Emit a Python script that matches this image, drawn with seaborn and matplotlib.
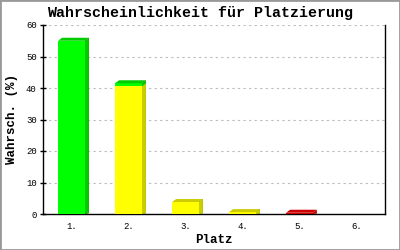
import matplotlib
matplotlib.use("Agg")
import matplotlib.pyplot as plt
import seaborn as sns
import numpy as np
import pandas as pd
from matplotlib.patches import Polygon, Rectangle

categories = ["1.", "2.", "3.", "4.", "5.", "6."]
yellow_vals = [0.0, 40.5, 3.8, 0.6, 0.0, 0.0]
green_vals = [55.0, 1.0, 0.0, 0.0, 0.0, 0.0]
red_vals = [0.0, 0.0, 0.0, 0.0, 0.4, 0.0]
yticks = [0, 10, 20, 30, 40, 50, 60]

title = "Wahrscheinlichkeit für Platzierung"
xlabel = "Platz"
ylabel = "Wahrsch. (%)"

front = {"y": "#FFFF00", "g": "#00FF00", "r": "#FF0000"}
dark = {"y": "#CCCC00", "g": "#00CC00", "r": "#CC0000"}

sns.set_style("white")
plt.rcParams["font.family"] = ["Liberation Mono", "DejaVu Sans Mono"]
plt.rcParams["text.color"] = "black"
plt.rcParams["axes.labelcolor"] = "black"
plt.rcParams["xtick.color"] = "black"
plt.rcParams["ytick.color"] = "black"

fig = plt.figure(figsize=(4, 2.5), dpi=100)
ax = fig.add_axes([43 / 400, 36 / 250, 342 / 400, 189 / 250])

df = pd.DataFrame({"cat": categories, "y": yellow_vals, "g": green_vals, "r": red_vals})
df["cum_y"] = df["y"]
df["cum_g"] = df["y"] + df["g"]
df["cum_r"] = df["y"] + df["g"] + df["r"]

ax.set_ylim(0, 60)
ax.set_xlim(-0.5, 5.5)
fig.canvas.draw()
bbox = ax.get_window_extent()
dx = 4 * 6.0 / bbox.width
dy = 3 * 60.0 / bbox.height

layers = [("cum_r", "r", 2), ("cum_g", "g", 3), ("cum_y", "y", 4)]
for col, key, z in layers:
    n_before = len(ax.patches)
    sns.barplot(data=df, x="cat", y=col, color=front[key], width=0.47,
                saturation=1, linewidth=0, ax=ax, zorder=z, order=categories)
    for p in ax.patches[n_before:]:
        h = p.get_height()
        if h <= 0:
            continue
        x0 = p.get_x(); w = p.get_width()
        side = Polygon([(x0 + w, 0), (x0 + w + dx, min(dy, h) * 0.3),
                        (x0 + w + dx, h + dy), (x0 + w, h)], closed=True,
                       facecolor=dark[key], edgecolor="none", zorder=z - 0.5)
        ax.add_patch(side)

tops = list(df["cum_r"])
patches_front = ax.patches[:len(categories)]
for i, p in enumerate(patches_front):
    h = tops[i]
    if h <= 0:
        continue
    if red_vals[i] > 0:
        k = "r"
    elif green_vals[i] > 0:
        k = "g"
    else:
        k = "y"
    x0 = p.get_x(); w = p.get_width()
    top = Polygon([(x0, h), (x0 + dx, h + dy), (x0 + w + dx, h + dy), (x0 + w, h)],
                  closed=True, facecolor=dark[k], edgecolor="none", zorder=5)
    ax.add_patch(top)

ax.set_ylim(0, 60)
ax.set_xlim(-0.5, 5.5)
ax.set_yticks(yticks)
ax.set_yticklabels([str(t) for t in yticks])
ax.yaxis.grid(True, color="#BBBBBB", linestyle=(0, (2, 3)), linewidth=0.8)
ax.set_axisbelow(True)
ax.tick_params(axis="y", direction="inout", length=5, width=1, color="black",
               labelsize=6.5, pad=2, left=True)
ax.tick_params(axis="x", length=0, labelsize=6.5, pad=6)
for s in ["left", "bottom", "right"]:
    ax.spines[s].set_visible(True)
    ax.spines[s].set_color("black")
    ax.spines[s].set_linewidth(1)
ax.spines["top"].set_visible(False)

ax.set_xlabel(xlabel, fontsize=9, fontweight="bold", labelpad=2)
ax.set_ylabel(ylabel, fontsize=9, fontweight="bold", labelpad=6)
fig.text(0.5, 1 - 13 / 250, title, ha="center", va="center",
         fontsize=10.8, fontweight="bold")

fig.patches.append(Rectangle((0, 0), 1, 1, transform=fig.transFigure,
                             fill=False, edgecolor="#999999", linewidth=2))

fig.savefig("out.png", dpi=100)
